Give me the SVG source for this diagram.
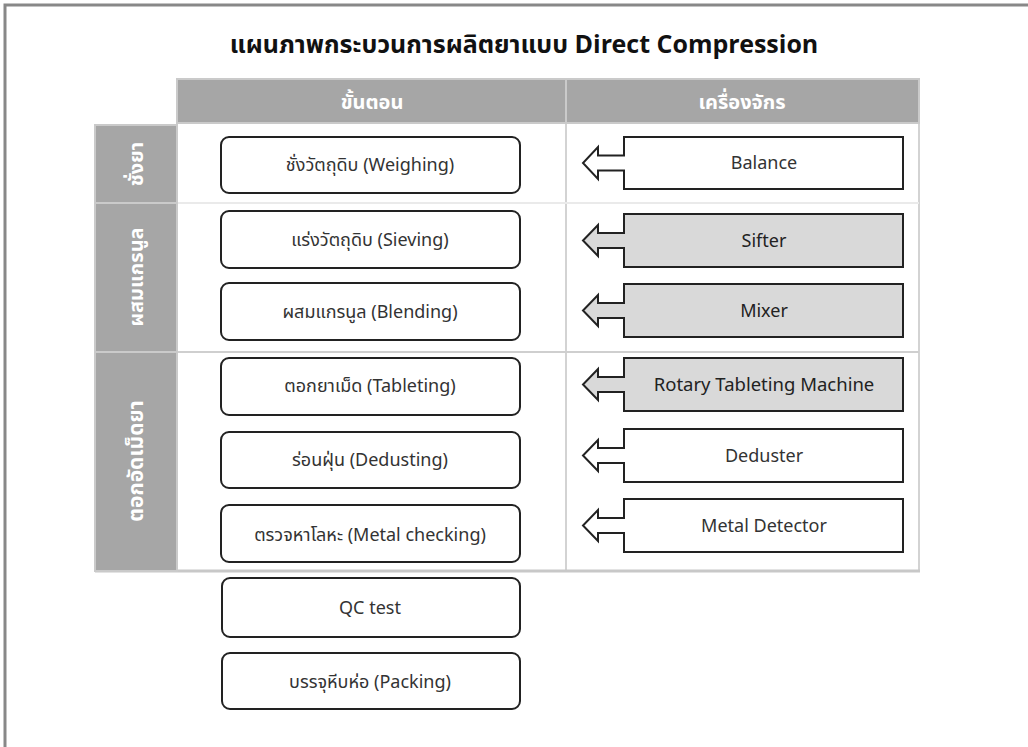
<svg xmlns="http://www.w3.org/2000/svg" width="1028" height="747" viewBox="0 0 1028 747">
<style>
.t{font-family:"Noto Sans Thai","Noto Sans","DejaVu Sans",sans-serif;}
.title{font-size:25px;font-weight:bold;fill:#111;text-anchor:middle;}
.hd{font-size:20px;font-weight:bold;fill:#fff;text-anchor:middle;}
.step{fill:#fff;stroke:#222;stroke-width:2;}
.st{font-size:18px;fill:#333;text-anchor:middle;}
.ms{font-size:18px;fill:#333;text-anchor:middle;}
.dk{fill:#222;}
.mach{stroke:#222;stroke-width:2;stroke-linejoin:miter;}
.mw{fill:#fff;}
.mg{fill:#D9D9D9;}
.gray{fill:#A6A6A6;stroke:#CACACA;stroke-width:2;}
</style>
<rect width="1028" height="747" fill="#fff"/>
<path d="M5,747 V5 H1028" fill="none" stroke="#888" stroke-width="3"/>
<text class="t title" x="524" y="53">แผนภาพกระบวนการผลิตยาแบบ Direct Compression</text>
<g id="table">
<rect x="177" y="125" width="742" height="446" fill="#fff"/>
<line x1="566" y1="123" x2="566" y2="571" stroke="#D3D3D3" stroke-width="2"/>
<line x1="919" y1="79" x2="919" y2="571" stroke="#D3D3D3" stroke-width="2"/>
<line x1="177" y1="203" x2="919" y2="203" stroke="#EAEAEA" stroke-width="2"/>
<line x1="177" y1="352" x2="919" y2="352" stroke="#CFCFCF" stroke-width="2"/>
<line x1="95" y1="571" x2="920" y2="571" stroke="#C8C8C8" stroke-width="3"/>
<rect class="gray" x="177" y="79" width="742" height="44"/>
<line x1="566" y1="79" x2="566" y2="123" stroke="#CACACA" stroke-width="2"/>
<text class="t hd" x="372" y="109">ขั้นตอน</text>
<text class="t hd" x="742" y="109">เครื่องจักร</text>
</g>
<g id="phase-weigh">
<rect class="gray" x="95" y="125" width="82" height="78"/>
<text class="t hd" transform="translate(143,164) rotate(-90)">ชั่งยา</text>
</g>
<g id="phase-mix">
<rect class="gray" x="95" y="203" width="82" height="149"/>
<text class="t hd" transform="translate(143,277) rotate(-90)">ผสมแกรนูล</text>
</g>
<g id="phase-tablet">
<rect class="gray" x="95" y="352" width="82" height="219"/>
<text class="t hd" transform="translate(143,461) rotate(-90)" style="font-size:21px">ตอกอัดเม็ดยา</text>
</g>
<g id="step-weighing"><rect class="step" x="221" y="137" width="299" height="56" rx="8"/><text class="t st" x="370" y="171">ชั่งวัตถุดิบ (Weighing)</text></g>
<g id="step-sieving"><rect class="step" x="221" y="211" width="299" height="57" rx="8"/><text class="t st" x="370" y="246">แร่งวัตถุดิบ (Sieving)</text></g>
<g id="step-blending"><rect class="step" x="221" y="283" width="299" height="57" rx="8"/><text class="t st" x="370" y="318">ผสมแกรนูล (Blending)</text></g>
<g id="step-tableting"><rect class="step" x="221" y="358" width="299" height="57" rx="8"/><text class="t st" x="370" y="392">ตอกยาเม็ด (Tableting)</text></g>
<g id="step-dedusting"><rect class="step" x="221" y="432" width="299" height="56" rx="8"/><text class="t st" x="370" y="466">ร่อนฝุ่น (Dedusting)</text></g>
<g id="step-metal"><rect class="step" x="221" y="505" width="299" height="57" rx="8"/><text class="t st" x="370" y="541">ตรวจหาโลหะ (Metal checking)</text></g>
<g id="step-qc"><rect class="step" x="222" y="578" width="298" height="59" rx="8"/><text class="t st" x="370" y="614">QC test</text></g>
<g id="step-packing"><rect class="step" x="222" y="653" width="298" height="56" rx="8"/><text class="t st" x="370" y="688">บรรจุหีบห่อ (Packing)</text></g>
<g id="connectors">
<path class="mach mw" d="M624,137 V155.5 H598 V147 L583,163 L598,179 V170.5 H624 V189 H903 V137 Z"/>
<path class="mach mg" d="M624,214 V233 H598 V225 L583,240.5 L598,256 V248 H624 V267 H903 V214 Z"/>
<path class="mach mg" d="M624,284 V303 H598 V295 L583,310.5 L598,326 V318 H624 V337 H903 V284 Z"/>
<path class="mach mg" d="M624,358 V377 H598 V369 L583,384.5 L598,400 V392 H624 V411 H903 V358 Z"/>
<path class="mach mw" d="M624,429 V448 H598 V440 L583,455.5 L598,471 V463 H624 V482 H903 V429 Z"/>
<path class="mach mw" d="M624,499 V518 H598 V510 L583,525.5 L598,541 V533 H624 V552 H903 V499 Z"/>
</g>
<g id="m-balance"><text class="t ms" x="764" y="169">Balance</text></g>
<g id="m-sifter"><text class="t ms dk" x="764" y="247">Sifter</text></g>
<g id="m-mixer"><text class="t ms dk" x="764" y="317">Mixer</text></g>
<g id="m-rotary"><text class="t ms dk" x="764" y="391" style="font-size:18.5px">Rotary Tableting Machine</text></g>
<g id="m-deduster"><text class="t ms" x="764" y="462">Deduster</text></g>
<g id="m-metal"><text class="t ms" x="764" y="532">Metal Detector</text></g>
</svg>
